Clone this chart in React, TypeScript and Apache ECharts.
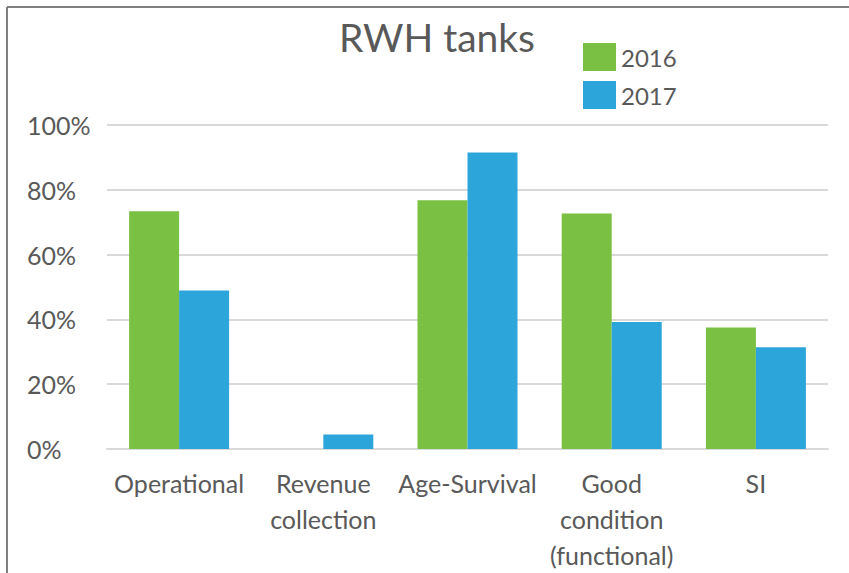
import React, { useEffect, useRef } from "react";
import * as echarts from "echarts";

const categories = [
  "Operational",
  "Revenue\ncollection",
  "Age-Survival",
  "Good\ncondition\n(functional)",
  "SI",
];
const values2016 = [73.4, 0, 76.8, 72.7, 37.5];
const values2017 = [48.9, 4.5, 91.5, 39.2, 31.4];
const seriesNames = ["2016", "2017"];
const titleText = "RWH tanks";

const FONT = "Lato, 'Open Sans', sans-serif";
const TEXT = "#595959";

export default function App() {
  const ref = useRef<HTMLDivElement>(null);
  useEffect(() => {
    if (!ref.current) return;
    const chart = echarts.init(ref.current, undefined, { renderer: "svg" });
    chart.setOption({
      animation: false,
      backgroundColor: "#ffffff",
      title: {
        text: titleText,
        left: 432,
        top: 12,
        textAlign: "center",
        textStyle: { fontFamily: FONT, fontSize: 39, fontWeight: "normal", color: TEXT },
      },
      legend: {
        orient: "vertical",
        left: 583,
        top: 43,
        itemWidth: 33,
        itemHeight: 28,
        itemGap: 10,
        padding: 0,
        icon: "rect",
        data: seriesNames,
        textStyle: { fontFamily: FONT, fontSize: 24, color: TEXT, padding: [2, 0, 0, 0] },
      },
      grid: { left: 107, right: 21, top: 125, bottom: 123, containLabel: false },
      xAxis: {
        type: "category",
        data: categories,
        axisLine: { show: true, lineStyle: { color: "#d9d9d9", width: 2 } },
        axisTick: { show: false },
        axisLabel: {
          interval: 0,
          fontFamily: FONT,
          fontSize: 25,
          lineHeight: 36,
          color: TEXT,
          margin: 16,
        },
      },
      yAxis: {
        type: "value",
        min: 0,
        max: 100,
        interval: 20,
        axisLine: { show: false },
        axisTick: { show: false },
        splitLine: { lineStyle: { color: "#d9d9d9", width: 2 } },
        axisLabel: {
          formatter: "{value}%",
          align: "left",
          margin: 80,
          fontFamily: FONT,
          fontSize: 25,
          color: TEXT,
        },
      },
      series: [
        {
          name: seriesNames[0],
          type: "bar",
          data: values2016,
          barWidth: 50,
          barGap: "0%",
          itemStyle: { color: "#7AC143" },
        },
        {
          name: seriesNames[1],
          type: "bar",
          data: values2017,
          barWidth: 50,
          barGap: "0%",
          itemStyle: { color: "#2CA5DB" },
        },
      ],
      graphic: [
        {
          type: "line",
          shape: { x1: 7, y1: 7, x2: 849, y2: 7 },
          style: { stroke: "#7f7f7f", lineWidth: 2 },
        },
        {
          type: "line",
          shape: { x1: 7, y1: 7, x2: 7, y2: 573 },
          style: { stroke: "#7f7f7f", lineWidth: 2 },
        },
      ],
    });
    return () => chart.dispose();
  }, []);
  return (
    <div
      ref={ref}
      style={{ position: "fixed", left: 0, top: 0, width: 849, height: 573 }}
    />
  );
}
